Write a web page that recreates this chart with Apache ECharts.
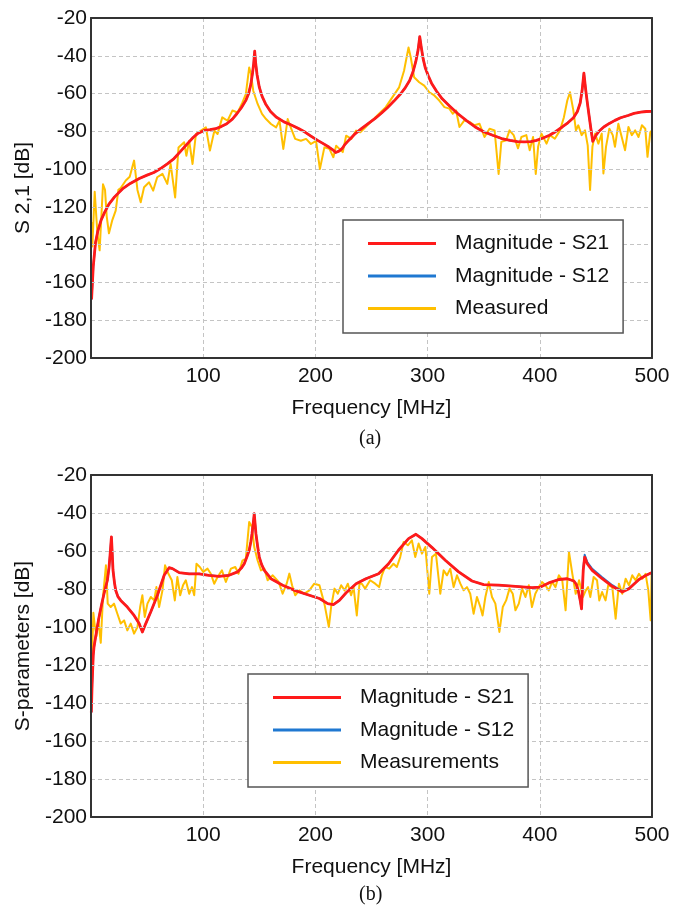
<!DOCTYPE html>
<html>
<head>
<meta charset="utf-8">
<script src="https://cdn.jsdelivr.net/npm/echarts@6/dist/echarts.min.js"></script>
<style>
html,body{margin:0;padding:0;background:#fff;}
#chart{width:684px;height:909px;}
</style>
</head>
<body>
<div id="chart"></div>
<script>
// ---------- data (frequency MHz, dB) ----------
const xTicks = [0, 100, 200, 300, 400, 500];
const yTicks = [-200, -180, -160, -140, -120, -100, -80, -60, -40, -20];
const legendTop = ['Magnitude - S21', 'Magnitude - S12', 'Measured'];
const legendBottom = ['Magnitude - S21', 'Magnitude - S12', 'Measurements'];

const topS21 = [[0.5,-169],[2,-151.6],[4,-139],[6,-133],[9,-127],[12,-123],[16,-118.5],[21,-114.7],[28,-110.5],[35,-107.6],[43,-105],[50,-103.2],[56,-101.8],[62,-99.7],[68,-97.2],[74,-94.4],[80,-90.5],[86,-86.5],[91,-83.3],[95,-81.2],[101,-79.5],[106,-79.1],[111,-78.6],[116,-77.5],[121,-76],[126,-73.5],[130,-70.7],[134,-67.5],[138,-63.6],[140.5,-60],[142.5,-55],[144,-49],[145,-44],[145.9,-37.6],[146.8,-44],[148,-50],[150,-56.6],[152.5,-61.5],[155.6,-65.5],[160,-69.5],[165,-72.4],[172,-75],[179,-76.8],[185,-78.5],[190.7,-80.4],[196,-82.5],[202,-84.8],[207,-86.5],[212,-88.3],[215.5,-89.8],[218,-91.2],[221,-90.5],[223.7,-89.2],[226,-87.2],[229.6,-84.8],[235,-81.5],[241,-78.6],[247,-75.9],[253,-73.3],[259,-70.3],[264.6,-67.2],[270,-64],[276,-60.1],[280,-57],[284,-53.1],[287,-48.5],[289.5,-43],[291.5,-37],[293,-29.9],[294.5,-36],[296,-41.5],[298,-46.5],[300.5,-50.5],[303.5,-54.5],[308,-58.8],[313,-62.8],[320,-66.8],[327,-70.7],[335,-74.5],[342.4,-77.7],[350,-80.2],[358,-82.1],[366,-83.8],[373.5,-84.8],[380,-85.4],[386,-85.6],[392,-85.4],[397,-84.8],[403,-83.5],[408.6,-82.1],[414,-80.2],[420,-77.7],[425,-75.5],[430,-72.8],[433.5,-69.5],[436,-65],[437.7,-58.4],[439.3,-49.2],[441,-58.4],[442.5,-65.5],[444,-72],[445.5,-78.5],[447.2,-85.3],[448.5,-84],[450,-82.1],[453,-79.8],[457,-77.7],[462,-75.8],[467,-74.2],[472,-72.8],[478.6,-71.6],[484,-70.5],[490,-69.8],[495,-69.5],[500,-69.4]];

const topS12 = [[0.5,-169],[2,-151.6],[4,-139],[6,-133],[9,-127],[12,-123],[16,-118.5],[21,-114.7],[28,-110.5],[35,-107.6],[43,-105],[50,-103.2],[56,-101.8],[62,-99.7],[68,-97.2],[74,-94.4],[80,-90.5],[86,-86.5],[91,-83.3],[95,-81.2],[101,-79.5],[106,-79.1],[111,-78.6],[116,-77.5],[121,-76],[126,-73.5],[130,-70.7],[134,-67.5],[138,-63.6],[140.5,-60],[142.5,-55],[144,-49],[145,-44],[145.9,-37.6],[146.8,-44],[148,-50],[150,-56.6],[152.5,-61.5],[155.6,-65.5],[160,-69.5],[165,-72.4],[172,-75],[179,-76.8],[185,-78.5],[190.7,-80.4],[196,-82.5],[202,-84.8],[207,-86.5],[212,-88.3],[215.5,-89.8],[218,-91.2],[221,-90.5],[223.7,-89.2],[226,-87.2],[229.6,-84.8],[235,-81.5],[241,-78.6],[247,-75.9],[253,-73.3],[259,-70.3],[264.6,-67.2],[270,-64],[276,-60.1],[280,-57],[284,-53.1],[287,-48.5],[289.5,-43],[291.5,-37],[293,-29.9],[294.5,-36],[296,-41.5],[298,-46.5],[300.5,-50.5],[303.5,-54.5],[308,-58.8],[313,-62.8],[320,-66.8],[327,-70.7],[335,-74.5],[342.4,-77.7],[350,-80.2],[358,-82.1],[366,-83.8],[373.5,-84.8],[380,-85.4],[386,-85.6],[392,-85.4],[397,-84.8],[403,-83.5],[408.6,-82.1],[414,-80.2],[420,-77.7],[425,-75.5],[430,-72.8],[433.5,-69.5],[436,-65],[437.7,-58.4],[439.3,-49.2],[441,-58.4],[442.5,-65.5],[444,-72],[445.5,-78.5],[447.2,-85.3],[448.5,-84],[450,-82.1],[453,-79.8],[457,-77.7],[462,-75.8],[467,-74.2],[472,-72.8],[478.6,-71.6],[484,-70.5],[490,-69.8],[495,-69.5],[500,-69.4]];

const topMeasured = [[0.5,-128],[1.2,-141],[3.3,-112],[5.7,-134],[7.7,-143],[10.7,-108],[12.5,-111],[14,-125],[16,-134],[19,-127],[22,-122],[24.4,-111],[26.5,-110],[31,-106],[34.5,-104],[38.4,-95.5],[41.4,-111],[44.3,-117.5],[47.3,-109.6],[51.8,-107],[55.4,-111.4],[59,-104.3],[63.7,-102.5],[68,-107.8],[71,-97.3],[75,-115],[78,-88.5],[83,-85.8],[85,-92.9],[87.5,-85],[90.5,-97.3],[93.5,-81.4],[98,-79.6],[102.4,-77.9],[106,-90.2],[110,-79.6],[112.8,-81.4],[117,-72.6],[121.7,-74.4],[126,-69],[130.7,-70],[135,-64.7],[138,-60.3],[141,-46.2],[142.6,-49.7],[144.6,-58.5],[148.5,-65.5],[152.4,-70.8],[156,-73.5],[160.4,-76.1],[165,-77.9],[168,-74.4],[171.4,-89.3],[175.3,-73.5],[178,-77.9],[182,-84],[187,-85],[191.7,-84],[196,-86.7],[200.6,-85],[204,-100],[208,-88.5],[212.5,-89.3],[216,-93.7],[218.5,-87.6],[221.4,-89.3],[224.4,-91],[227.4,-82.3],[232,-84],[236.3,-79.6],[240,-80.5],[244.8,-77.7],[250.7,-74.2],[256.7,-70.7],[262.7,-67.2],[268.7,-61.9],[274.6,-56.7],[279,-47.9],[283,-35.6],[285,-40.9],[288,-51.4],[292.5,-54],[297,-55.8],[301.5,-59.3],[306,-61],[310.4,-63.7],[315,-67.2],[319.4,-68],[322.4,-70.7],[325.4,-69],[328.4,-77.7],[332.8,-74.2],[337.3,-75],[341.8,-76.8],[346.3,-76],[350.7,-83],[355.2,-78.6],[359.7,-79.5],[363.3,-102.6],[365.7,-85.6],[370.1,-84.7],[373,-79.5],[376.7,-82],[380.6,-89],[383.6,-83],[388,-82],[391,-90],[394,-83],[396.4,-102.6],[398.5,-88.2],[401.5,-81.2],[406,-86.5],[409,-82],[413.4,-83.9],[418,-79.5],[421.5,-72.5],[424.5,-63.7],[426.9,-59.3],[429.9,-68.9],[432.2,-79.5],[434.3,-76.8],[437.3,-82],[440.3,-79.5],[442.7,-87.4],[444.8,-111],[446.9,-88.2],[449.3,-81.2],[452.2,-86.5],[455.2,-81.2],[456.7,-102.3],[459,-88.2],[462,-78.6],[465,-82],[467,-88.2],[470,-76],[473,-83],[476,-90],[479,-77.7],[482,-82],[485,-79.5],[488,-83],[491,-76.8],[494,-78.6],[496,-93.5],[498.5,-80.4],[500,-79.5]];

const bottomS21 = [[0.3,-145],[1,-130],[2,-115],[2.7,-110.5],[5,-102],[7.1,-95],[9.5,-88],[11.6,-82.5],[13.5,-78],[14.6,-75.4],[16,-69],[17,-62],[18.2,-52.6],[19,-62],[19.6,-70],[21,-77],[22,-80.7],[24,-84],[26.5,-86],[32.4,-89.5],[38.4,-93.9],[42.9,-98.2],[45.8,-102.6],[48.8,-98.2],[53.3,-92],[59.2,-83.3],[65.2,-72.8],[69.6,-68.8],[72.6,-69.3],[78.6,-71.4],[87.5,-72],[96.4,-72],[105,-72.8],[114,-73.3],[123,-72.8],[130.6,-71],[134,-69],[136.6,-66.7],[139,-63],[141,-59.6],[142.5,-55],[143.5,-50.9],[144.5,-46],[145.5,-40.4],[146.3,-46],[147,-50.9],[148.5,-57.5],[150,-63.2],[152,-67],[154.5,-70.2],[160.4,-74.6],[170.8,-78],[182.7,-81],[194.6,-83.3],[203.6,-85],[211,-87.7],[216,-88.2],[221.4,-86],[227.4,-82],[236.3,-77.2],[245,-74.6],[256.3,-72],[265.2,-66.7],[274,-59.6],[283,-53.5],[289.6,-51.2],[295,-53.5],[304,-58.2],[316,-65],[327.7,-71],[339.6,-75.8],[350,-77.7],[363.4,-78],[378.3,-78.6],[393,-79.3],[400.6,-79],[408,-76.8],[417,-75],[424.4,-74.6],[430.4,-75.8],[432.5,-77.5],[434.2,-80.7],[436,-86],[437.2,-90.4],[438,-80],[438.7,-70.2],[440,-63.2],[442.3,-66.7],[446.7,-70.2],[455.6,-74.6],[464.6,-78.6],[473.5,-81.6],[479.5,-79.9],[488.4,-75],[494,-73],[499,-71.6],[500,-71.3]];

const bottomS12 = [[0.3,-145],[1,-130],[2,-115],[2.7,-110.5],[5,-102],[7.1,-95],[9.5,-88],[11.6,-82.5],[13.5,-78],[14.6,-75.4],[16,-69],[17,-62],[18.2,-52.6],[19,-62],[19.6,-70],[21,-77],[22,-80.7],[24,-84],[26.5,-86],[32.4,-89.5],[38.4,-93.9],[42.9,-98.2],[45.8,-102.6],[48.8,-98.2],[53.3,-92],[59.2,-83.3],[65.2,-72.8],[69.6,-68.8],[72.6,-69.3],[78.6,-71.4],[87.5,-72],[96.4,-72],[105,-72.8],[114,-73.3],[123,-72.8],[130.6,-71],[134,-69],[136.6,-66.7],[139,-63],[141,-59.6],[142.5,-55],[143.5,-50.9],[144.5,-46],[145.5,-40.4],[146.3,-46],[147,-50.9],[148.5,-57.5],[150,-63.2],[152,-67],[154.5,-70.2],[160.4,-74.6],[170.8,-78],[182.7,-81],[194.6,-83.3],[203.6,-85],[211,-87.7],[216,-88.2],[221.4,-86],[227.4,-82],[236.3,-77.2],[245,-74.6],[256.3,-72],[265.2,-66.7],[274,-59.6],[283,-53.5],[289.6,-51.2],[295,-53.5],[304,-58.2],[316,-65],[327.7,-71],[339.6,-75.8],[350,-77.7],[363.4,-78],[378.3,-78.6],[393,-79.3],[400.6,-79],[408,-76.8],[417,-75],[424.4,-74.6],[430.4,-75.8],[432.5,-77.5],[434.2,-80.7],[436,-86],[437.2,-90.4],[438,-79.5],[438.7,-69.5],[440,-62],[442.3,-65.8],[446.7,-69.4],[455.6,-73.8],[464.6,-78],[473.5,-81.2],[479.5,-79.6],[488.4,-75],[494,-73],[499,-71.6],[500,-71.3]];

const bottomMeasured = [[0.5,-125],[2.1,-92.5],[3.5,-100],[4.9,-104.8],[6.5,-96],[8.7,-108.3],[10.7,-84],[13.3,-67.5],[14.9,-87.7],[17.6,-89.5],[20.5,-87.7],[23.5,-93],[26.5,-98.2],[29.5,-96.5],[32.4,-101.8],[35.4,-98.2],[38.4,-103.5],[41.4,-100],[43.8,-89.5],[45.8,-83.3],[47.9,-94.7],[50.3,-87.7],[53.3,-84.2],[56.3,-86],[58.3,-79],[60.7,-89.5],[63.7,-80.7],[66,-67.5],[69,-72],[72,-75.4],[74.7,-86],[77,-73.7],[79.5,-83.3],[82,-78],[84.5,-75.4],[87.5,-82.5],[90,-79],[92,-83.3],[94,-66.7],[97,-68.4],[100,-71],[103.9,-69.3],[106.8,-72],[109.8,-77.2],[112.8,-73.7],[116.7,-70.2],[120.2,-76.3],[124.7,-69.3],[128.6,-68.4],[131.5,-72],[135,-65],[138,-64],[141,-44.7],[143.5,-47.4],[145.5,-57.9],[148.5,-65],[151.5,-70.2],[154.5,-69.3],[157.4,-75.4],[162,-72.8],[167.3,-76.3],[170.8,-82.5],[174.4,-77.2],[176.8,-71.9],[179.2,-78],[182,-83.3],[185.7,-80.7],[190,-82.5],[194.6,-80.7],[199,-77.2],[203.6,-78],[208,-87.7],[212,-100],[214,-89.5],[217,-79.8],[220,-82.5],[223,-78],[226,-80.7],[228.9,-77.2],[231.8,-83.3],[234,-79],[236.9,-93.9],[239.3,-77.2],[241.4,-77.2],[244.3,-79.8],[248.8,-75.4],[253.3,-77.2],[256.8,-79],[259.2,-72.8],[262.2,-68.4],[265.8,-69.3],[269.6,-66.7],[272.6,-68.4],[275.6,-63.2],[278.6,-55.3],[282.4,-57],[286,-54.4],[289,-63.2],[292,-56.1],[295,-61.4],[298,-57.9],[301.5,-82.5],[303.9,-63.2],[307.4,-61.4],[311.3,-82.5],[314.3,-70.2],[317.3,-72.8],[320.2,-69.3],[323.2,-79],[326.2,-72.8],[329.2,-77.2],[332.1,-80.7],[335.1,-79],[338,-82.5],[341,-93],[344,-84.2],[347,-89.5],[349,-93.9],[351.5,-84.2],[354.5,-76.3],[357.4,-84.2],[360.4,-87.7],[364,-102.6],[367,-89.5],[370,-86],[373,-79.8],[375.9,-82.5],[378.3,-91.2],[381.3,-87.7],[384.2,-79.8],[387.2,-84.2],[390.2,-78],[393,-89.5],[396,-82.5],[399,-79],[402,-76.3],[405,-78],[408,-80.7],[411,-76.3],[414,-79],[417,-72.8],[420,-75.4],[423,-91.2],[426,-60.5],[429,-72],[432,-82.5],[435,-75.4],[438.4,-84.2],[441,-80.7],[443,-79],[445,-84.2],[448,-73.7],[451,-75.4],[453,-86],[455.5,-81.6],[458.6,-86],[461,-78],[464.6,-79],[467.6,-95.6],[470.5,-77.2],[473.5,-82.5],[476.5,-74.6],[479.5,-78],[482.4,-72.8],[485.4,-75.4],[488.4,-72],[491.4,-74.6],[494.3,-72],[496.7,-80.7],[498.8,-96.5],[499.7,-72]];

// ---------- styling ----------
const RED = '#ff1a1a', BLUE = '#1f78d1', YELLOW = '#ffbf00';
const FONT = '"Liberation Sans", Arial, sans-serif';
const TXT = '#111';
const FRAME = { color: '#333', width: 2 };

function xAxisCfg(gridIndex) {
  return {
    type: 'value', gridIndex: gridIndex,
    min: xTicks[0], max: xTicks[xTicks.length - 1], interval: 100,
    name: 'Frequency [MHz]', nameLocation: 'middle', nameGap: 40,
    nameTextStyle: { fontFamily: FONT, fontSize: 21, color: TXT },
    axisLine: { show: true, onZero: false, lineStyle: FRAME },
    axisTick: { show: false },
    axisLabel: { showMinLabel: false, margin: 8, fontFamily: FONT, fontSize: 21, color: TXT },
    splitLine: { show: true, lineStyle: { color: '#c4c4c4', type: [4, 3], width: 1 } },
    z: 3
  };
}
function yAxisCfg(gridIndex, name) {
  return {
    type: 'value', gridIndex: gridIndex,
    min: yTicks[0], max: yTicks[yTicks.length - 1], interval: 20,
    name: name, nameLocation: 'middle', nameGap: 52,
    nameTextStyle: { fontFamily: FONT, fontSize: 21, color: TXT },
    axisLine: { show: true, onZero: false, lineStyle: FRAME },
    axisTick: { show: false },
    axisLabel: { margin: 4, fontFamily: FONT, fontSize: 21, color: TXT },
    splitLine: { show: true, lineStyle: { color: '#c4c4c4', type: [4, 3], width: 1 } },
    z: 3
  };
}
// frame-only axes for the top and right edges of each box
function xFrame(gridIndex) {
  return { type: 'value', gridIndex: gridIndex, position: 'top', min: xTicks[0], max: xTicks[xTicks.length - 1],
    axisLine: { show: true, onZero: false, lineStyle: FRAME }, axisTick: { show: false },
    axisLabel: { show: false }, splitLine: { show: false }, z: 3 };
}
function yFrame(gridIndex) {
  return { type: 'value', gridIndex: gridIndex, position: 'right', min: yTicks[0], max: yTicks[yTicks.length - 1],
    axisLine: { show: true, onZero: false, lineStyle: FRAME }, axisTick: { show: false },
    axisLabel: { show: false }, splitLine: { show: false }, z: 3 };
}
function lineSeries(name, data, color, width, idx, z) {
  return {
    type: 'line', name: name, data: data, xAxisIndex: idx, yAxisIndex: idx,
    showSymbol: false, symbol: 'none', smooth: false, z: z,
    lineStyle: { color: color, width: width, join: 'round' },
    itemStyle: { color: color }, animation: false
  };
}
function legendCfg(names, left, top) {
  return {
    data: names, orient: 'vertical', left: left, top: top,
    icon: 'rect', itemWidth: 68, itemHeight: 3, itemGap: 11.5,
    padding: [13, 14, 14, 25],
    backgroundColor: '#fff', borderColor: '#555', borderWidth: 1.5,
    textStyle: { fontFamily: FONT, fontSize: 21, color: TXT, padding: [0, 0, 0, 14] },
    selectedMode: false, z: 10
  };
}

const chart = echarts.init(document.getElementById('chart'), null, { renderer: 'canvas' });
chart.setOption({
  backgroundColor: '#fff',
  animation: false,
  grid: [
    { left: 91, top: 18, width: 561, height: 340, show: false, containLabel: false },
    { left: 91, top: 475, width: 561, height: 342, show: false, containLabel: false }
  ],
  xAxis: [xAxisCfg(0), xAxisCfg(1), xFrame(0), xFrame(1)],
  yAxis: [yAxisCfg(0, 'S 2,1 [dB]'), yAxisCfg(1, 'S-parameters [dB]'), yFrame(0), yFrame(1)],
  legend: [
    Object.assign(legendCfg(legendTop, 343, 220), { id: 'lt' }),
    Object.assign(legendCfg(legendBottom, 248, 674), { id: 'lb' })
  ],
  graphic: [
    { type: 'text', left: 359, top: 429, style: { text: '(a)', font: '20px "Liberation Serif", "Times New Roman", serif', fill: TXT } },
    { type: 'text', left: 359, top: 885, style: { text: '(b)', font: '20px "Liberation Serif", "Times New Roman", serif', fill: TXT } }
  ],
  series: [
    lineSeries(legendTop[2], topMeasured, YELLOW, 2, 0, 2),
    lineSeries(legendTop[1], topS12, BLUE, 2, 0, 2),
    lineSeries(legendTop[0], topS21, RED, 2.8, 0, 2),
    lineSeries(legendBottom[2], bottomMeasured, YELLOW, 2, 1, 2),
    lineSeries(legendBottom[1], bottomS12, BLUE, 2, 1, 2),
    lineSeries(legendBottom[0], bottomS21, RED, 2.8, 1, 2)
  ]
});
</script>
</body>
</html>
